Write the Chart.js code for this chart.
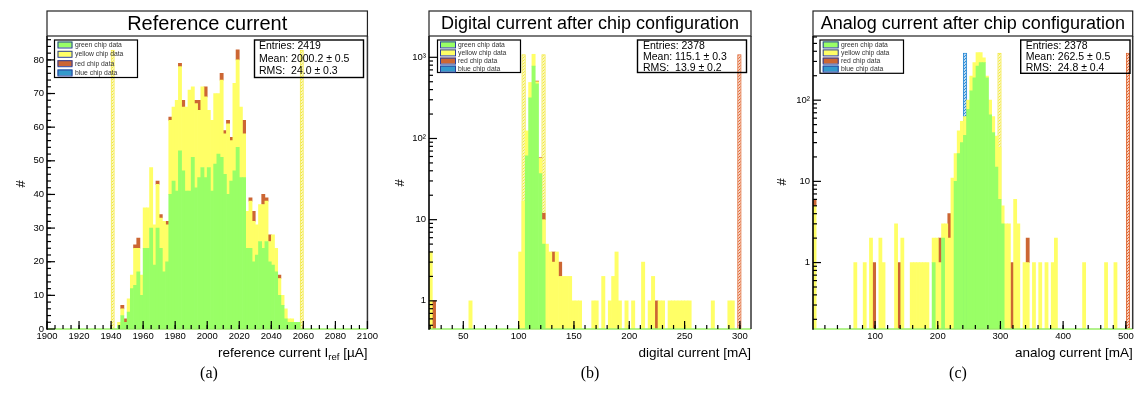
<!DOCTYPE html>
<html><head><meta charset="utf-8">
<script src="https://cdn.jsdelivr.net/npm/chart.js@4.4.1/dist/chart.umd.min.js"></script>
<style>
html,body{margin:0;padding:0;background:#fff;width:1142px;height:412px;overflow:hidden;position:relative;}
canvas{position:absolute;top:0;}
.cap{position:absolute;top:364px;font-family:"Liberation Serif","Times New Roman",serif;font-size:16px;width:40px;text-align:center;color:#000;}
</style></head><body>
<canvas id="ca" width="380" height="365" style="left:0px"></canvas>
<canvas id="cb" width="380" height="365" style="left:380px"></canvas>
<canvas id="cc" width="382" height="365" style="left:760px"></canvas>
<div class="cap" style="left:189px">(a)</div>
<div class="cap" style="left:570px">(b)</div>
<div class="cap" style="left:938px">(c)</div>
<script>
// ---------- series ----------
const seriesNames = ['green chip data', 'yellow chip data', 'red chip data', 'blue chip data'];
const seriesColors = ['#99ff66', '#ffff66', '#cc6633', '#3399cc'];

// ---------- panel (a): reference current, bins of 2 µA (lower edges) ----------
const aBinWidth = 2;
const aBinEdges = [1944,1946,1948,1950,1952,1954,1956,1958,1960,1962,1964,1966,1968,1970,1972,1974,1976,1978,1980,1982,1984,1986,1988,1990,1992,1994,1996,1998,2000,2002,2004,2006,2008,2010,2012,2014,2016,2018,2020,2022,2024,2026,2028,2030,2032,2034,2036,2038,2040,2042,2044,2046,2048,2050,2052,2054,2056];
const aGreen  = [1,4,2,5,12,13,17,10, 24,24,30,19,30,24,17,20, 40,44,41,53,47,41,41,51, 42,45,48,45,48,41,49,52, 51,46,40,44,47,54,45,45, 24,24,20,22,26,24,26,20, 19,17,10,7,3,2,2,2,2];
const aYellow = [1,2,0,4,4,11,7,6, 12,12,18,12,13,9,15,11, 22,22,27,25,19,25,30,21, 25,20,24,24,17,21,21,18, 23,12,21,12,26,26,21,13, 11,14,12,9,11,13,12,6, 9,7,5,3,3,1,1,0,0];
const aRed    = [0,1,1,0,0,1,3,0, 0,0,0,0,1,1,0,1, 1,0,0,1,2,0,0,0, 1,3,0,3,0,0,0,0, 2,1,1,1,0,3,0,4, 0,1,3,0,0,3,1,2, 0,0,1,0,0,0,0,0,0];
const aCutX = [1941, 2059];
const aCutH = [83, 83];
const aCutColor = ['#f2e83a', '#f2e83a'];
const aXTicks = [1900,1920,1940,1960,1980,2000,2020,2040,2060,2080,2100];
const aYTicks = [0,10,20,30,40,50,60,70,80];
const aYLabels = ['0','10','20','30','40','50','60','70','80'];
const aStats = ['Entries: 2419', 'Mean: 2000.2 \u00b1 0.5', 'RMS:  24.0 \u00b1 0.3'];

// ---------- panel (b): digital current, bins of 3 mA (lower edges) ----------
const bBinWidth = 3;
const bBinEdges = [19,22,55,100,103,106,109,112,115,118,121,124,127,130,133,136,139,142,145,148,151,154,166,169,175,181,184,187,190,196,202,211,217,220,223,226,229,235,238,241,244,247,250,253,274,289,292];
const bGreen  = [0,0,0,0,0,61,317,780,470,37,5, 0,0,0,0,0,0,0,0,0,0,0,0,0,0,0,0,0,0,0,0,0,0,0,0,0,0,0,0,0,0,0,0,0,0,0,0];
const bYellow = [4,0,1,4,17,63,173,310,30,20,5, 5,4,3,4,2,2,2,2,1,1,1,1,1,2,1,2,4,1,1,1,3,1,2,0,1,1,1,1,1,1,1,1,1,1,1,1];
const bRed    = [0,1,0,0,0,0,0,0,10,1,2, 0,0,1,0,1,0,0,0,0,0,0,0,0,0,0,0,0,0,0,0,0,0,0,1,0,0,0,0,0,0,0,0,0,0,0,0];
const bCutX = [104.5, 122.5, 299.5];
const bCutH = [1090, 1090, 1090];
const bCutColor = ['#f2e83a', '#f2e83a', '#e0642e'];
const bXTicks = [50,100,150,200,250,300];
const bYTicks = [1,10,100,1000];
const bYLabels = ['1','10','10\u00b2','10\u00b3'];
const bStats = ['Entries: 2378', 'Mean: 115.1 \u00b1 0.3', 'RMS:  13.9 \u00b1 0.2'];

// ---------- panel (c): analog current, bins of 5 mA (lower edges) ----------
const cBinWidth = 5;
const cBinEdges = [1,66,81,91,96,106,111,131,136,141,156,161,166,171,176,181,191,196,201,206,211,216,221,226,231,236,241,246,251,256,261,266,271,276,281,286,291,296,301,306,311,316,321,326,336,341,351,361,371,381,386,431,466,481];
const cGreen  = [0,0,0,0,0,0,0,0,0,0,0,0,0,0,0,0, 1,0,0,2,0,0,0, 10,22,30,37,77,130,189,263,290,290,189,66,40,15,6,3, 0,0,0,0,0,0,0,0,0,0,0,0,0,0,0];
const cYellow = [5,1,1,2,0,2,1,3,0,2, 1,1,1,1,1,1, 1,2,1,1,3,2,11, 12,20,25,26,23,68,101,122,95,43,9,34,23,21,20,2, 3,3,0,6,3,1,1,1,1,1,1,2,1,1,1];
const cRed    = [1,0,0,0,1,0,0,0,1,0, 0,0,0,0,0,0, 0,0,1,0,0,2,0, 0,0,0,0,0,0,0,0,0,0,0,0,0,0,0,0, 0,0,1,0,0,0,1,0,0,0,0,0,0,0,0];
const cCutX = [243.5, 298.5, 503.5];
const cCutH = [385, 385, 385];
const cCutColor = ['#2a8ad6', '#f2e83a', '#e0642e'];
const cXTicks = [100,200,300,400,500];
const cYTicks = [1,10,100];
const cYLabels = ['1','10','10\u00b2'];
const cStats = ['Entries: 2378', 'Mean: 262.5 \u00b1 0.5', 'RMS:  24.8 \u00b1 0.4'];

// ---------- helpers ----------
const FONT = '"Liberation Sans", Arial, Helvetica, sans-serif';

function hatch(ctx, color) {
  const c = document.createElement('canvas'); c.width = 3; c.height = 3;
  const g = c.getContext('2d');
  g.strokeStyle = color; g.lineWidth = 1.2;
  g.beginPath();
  g.moveTo(0, 3); g.lineTo(3, 0);
  g.moveTo(-1, 1); g.lineTo(1, -1);
  g.moveTo(2, 4); g.lineTo(4, 2);
  g.stroke();
  return ctx.createPattern(c, 'repeat');
}
function series(edges, width, vals) {
  return edges.map((e, i) => ({ x: e + width / 2, y: vals[i] ? vals[i] : null }));
}
function range(a, b, s) { const r = []; for (let v = a; v <= b + 1e-9; v += s) r.push(+v.toFixed(6)); return r; }
function logMinor(min, max) {
  const r = [];
  for (let d = 0.01; d <= max; d *= 10) for (let m = 2; m <= 9; m++) { const v = m * d; if (v >= min && v <= max) r.push(v); }
  return r;
}

function rootPlugin(cfg) {
  return {
    id: 'rootStyle',
    afterDatasetsDraw(chart) {
      const ctx = chart.ctx, ca = chart.chartArea, xs = chart.scales.x, ys = chart.scales.y;
      const line = (x1, y1, x2, y2) => { ctx.beginPath(); ctx.moveTo(x1, y1); ctx.lineTo(x2, y2); ctx.stroke(); };
      ctx.save();
      // frame
      ctx.strokeStyle = '#99ee66'; ctx.lineWidth = 1.6;
      line(ca.left, ca.bottom, ca.right, ca.bottom);
      ctx.strokeStyle = '#000'; ctx.lineWidth = 1.6;
      line(ca.left, ca.top, ca.left, ca.bottom + 0.8);
      ctx.strokeStyle = '#333'; ctx.lineWidth = 1.5;
      line(ca.right, ca.top, ca.right, ca.bottom);
      // title box
      ctx.strokeStyle = '#222'; ctx.lineWidth = 1.2;
      ctx.strokeRect(ca.left, cfg.titleTop, ca.right - ca.left, ca.top - cfg.titleTop);
      ctx.fillStyle = '#000'; ctx.textAlign = 'center'; ctx.textBaseline = 'middle';
      ctx.font = cfg.titleSize + 'px ' + FONT;
      ctx.fillText(cfg.title, (ca.left + ca.right) / 2, (cfg.titleTop + ca.top) / 2 + 1);
      // ticks
      ctx.strokeStyle = '#000'; ctx.lineWidth = 1.2;
      cfg.xMajor.forEach(v => { const p = xs.getPixelForValue(v); line(p, ca.bottom, p, ca.bottom - 8); });
      cfg.xMinor.forEach(v => { if (v <= xs.min || v >= xs.max) return; const p = xs.getPixelForValue(v); line(p, ca.bottom, p, ca.bottom - 4); });
      cfg.yMajor.forEach(v => { const p = ys.getPixelForValue(v); line(ca.left, p, ca.left + 8, p); });
      cfg.yMinor.forEach(v => { if (v <= ys.min || v >= ys.max) return; const p = ys.getPixelForValue(v); line(ca.left, p, ca.left + 4, p); });
      // legend
      const L = cfg.legend;
      ctx.strokeStyle = '#000'; ctx.lineWidth = 1.2;
      ctx.strokeRect(L.x0, L.y0, L.x1 - L.x0, L.y1 - L.y0);
      ctx.textAlign = 'left'; ctx.textBaseline = 'middle';
      seriesNames.forEach((name, i) => {
        const y = L.rows[i];
        ctx.fillStyle = seriesColors[i];
        ctx.fillRect(L.sx0, y - 3, L.sx1 - L.sx0, 6);
        ctx.strokeStyle = '#2a3f9a'; ctx.lineWidth = 1;
        ctx.strokeRect(L.sx0 + 0.5, y - 3 + 0.5, L.sx1 - L.sx0 - 1, 6);
        ctx.fillStyle = '#333'; ctx.font = '6.8px ' + FONT;
        ctx.fillText(name, L.tx, y + 0.5);
      });
      // stats box
      const S = cfg.stats;
      ctx.strokeStyle = '#000'; ctx.lineWidth = 1.4;
      ctx.strokeRect(S.x0, S.y0, S.x1 - S.x0, S.y1 - S.y0);
      ctx.fillStyle = '#000'; ctx.font = '10.5px ' + FONT;
      S.lines.forEach((t, i) => ctx.fillText(t, S.tx, S.rows[i]));
      // x title (right aligned, subscript support)
      let total = 0;
      cfg.xTitle.forEach(p => { ctx.font = (p.sub ? 9.5 : 13.5) + 'px ' + FONT; p.w = ctx.measureText(p.t).width; total += p.w; });
      let x = ca.right - total;
      ctx.textBaseline = 'alphabetic';
      cfg.xTitle.forEach(p => { ctx.font = (p.sub ? 9.5 : 13.5) + 'px ' + FONT; ctx.fillText(p.t, x, 356.5 + (p.sub ? 3 : 0)); x += p.w; });
      // y title "#"
      ctx.save();
      ctx.translate(cfg.hash[0], cfg.hash[1]); ctx.rotate(-Math.PI / 2);
      ctx.textAlign = 'center'; ctx.textBaseline = 'middle'; ctx.font = '13px ' + FONT;
      ctx.fillText('#', 0, 0);
      ctx.restore();
      ctx.restore();
    }
  };
}

function makeChart(id, p) {
  const canvas = document.getElementById(id);
  const ctx = canvas.getContext('2d');
  const cutPatterns = p.cutColor.map(c => hatch(ctx, c));
  const datasets = [
    { label: seriesNames[0], data: series(p.edges, p.w, p.green), backgroundColor: seriesColors[0], stack: 'h', order: 0, borderWidth: 0 },
    { label: seriesNames[1], data: series(p.edges, p.w, p.yellow), backgroundColor: seriesColors[1], stack: 'h', order: 1, borderWidth: 0 },
    { label: seriesNames[2], data: series(p.edges, p.w, p.red), backgroundColor: seriesColors[2], stack: 'h', order: 2, borderWidth: 0 },
    { label: seriesNames[3], data: [], backgroundColor: seriesColors[3], stack: 'h', order: 3, borderWidth: 0 },
    { label: 'cut', data: p.cutX.map((x, i) => ({ x: x, y: p.cutH[i] })), backgroundColor: cutPatterns,
      borderColor: p.cutColor, borderWidth: 1, barPercentage: p.cutWidth, inflateAmount: 0,
      stack: 'cut', grouped: false, order: 10 }
  ];
  const yScale = {
    type: p.log ? 'logarithmic' : 'linear', min: p.ymin, max: p.ymax, stacked: true,
    grid: { display: false, drawTicks: false }, border: { display: false },
    afterBuildTicks: s => { s.ticks = p.yTicks.map(v => ({ value: v })); },
    afterFit: s => { s.width = p.yAxisW; },
    ticks: { autoSkip: false, padding: 3, color: '#000', font: { family: FONT, size: 9.5 },
      callback: (v, i) => p.yLabels[i] }
  };
  const xScale = {
    type: 'linear', min: p.xmin, max: p.xmax, stacked: true, offset: false,
    grid: { display: false, drawTicks: false }, border: { display: false },
    afterBuildTicks: s => { s.ticks = p.xTicks.map(v => ({ value: v })); },
    afterFit: s => { s.height = 36; },
    ticks: { autoSkip: false, maxRotation: 0, padding: 2, color: '#000', font: { family: FONT, size: 9.5 },
      callback: (v, i) => String(p.xTicks[i]) }
  };
  return new Chart(ctx, {
    type: 'bar',
    data: { datasets },
    options: {
      responsive: false, animation: false, devicePixelRatio: 1,
      layout: { padding: { top: 36, right: p.padRight, left: 0, bottom: 0 } },
      datasets: { bar: { barPercentage: 1, categoryPercentage: 1 } },
      plugins: { legend: { display: false }, tooltip: { enabled: false }, title: { display: false } },
      scales: { x: xScale, y: yScale }
    },
    plugins: [rootPlugin(p.root)]
  });
}

makeChart('ca', {
  edges: aBinEdges, w: aBinWidth, green: aGreen, yellow: aYellow, red: aRed,
  cutX: aCutX, cutH: aCutH, cutColor: aCutColor, cutWidth: 1.25,
  log: false, ymin: 0, ymax: 87.1, xmin: 1900, xmax: 2100,
  yTicks: aYTicks, yLabels: aYLabels, xTicks: aXTicks, yAxisW: 47, padRight: 12,
  root: {
    title: 'Reference current', titleSize: 20, titleTop: 11,
    xMajor: aXTicks, xMinor: range(1905, 2095, 5), yMajor: aYTicks, yMinor: range(2, 86, 2),
    legend: { x0: 54.5, y0: 40, x1: 137.5, y1: 77.5, rows: [44.5, 53.8, 63.2, 72.5], sx0: 57.5, sx1: 72.5, tx: 75 },
    stats: { x0: 254.5, y0: 40, x1: 363.5, y1: 77.5, rows: [46.3, 58.8, 71.2], tx: 259, lines: aStats },
    xTitle: [{ t: 'reference current I' }, { t: 'ref', sub: true }, { t: ' [\u00b5A]' }],
    hash: [21, 184]
  }
});

makeChart('cb', {
  edges: bBinEdges, w: bBinWidth, green: bGreen, yellow: bYellow, red: bRed,
  cutX: bCutX, cutH: bCutH, cutColor: bCutColor, cutWidth: 1.3,
  log: true, ymin: 0.45, ymax: 1830, xmin: 19, xmax: 310,
  yTicks: bYTicks, yLabels: bYLabels, xTicks: bXTicks, yAxisW: 49, padRight: 9,
  root: {
    title: 'Digital current after chip configuration', titleSize: 18, titleTop: 11,
    xMajor: bXTicks, xMinor: range(20, 310, 10), yMajor: bYTicks, yMinor: logMinor(0.45, 1830),
    legend: { x0: 57.5, y0: 40, x1: 140.5, y1: 72.5, rows: [44.4, 52.4, 60.6, 68.6], sx0: 60, sx1: 76, tx: 78 },
    stats: { x0: 257.5, y0: 40, x1: 366.5, y1: 72.5, rows: [45.8, 56.8, 68], tx: 263, lines: bStats },
    xTitle: [{ t: 'digital current [mA]' }],
    hash: [20, 183]
  }
});

makeChart('cc', {
  edges: cBinEdges, w: cBinWidth, green: cGreen, yellow: cYellow, red: cRed,
  cutX: cCutX, cutH: cCutH, cutColor: cCutColor, cutWidth: 1.35,
  log: true, ymin: 0.152, ymax: 617, xmin: 1, xmax: 511,
  yTicks: cYTicks, yLabels: cYLabels, xTicks: cXTicks, yAxisW: 53, padRight: 9.3,
  root: {
    title: 'Analog current after chip configuration', titleSize: 18, titleTop: 11,
    xMajor: cXTicks, xMinor: range(20, 500, 20), yMajor: cYTicks, yMinor: logMinor(0.152, 617),
    legend: { x0: 60, y0: 40, x1: 143.5, y1: 73.3, rows: [44.4, 52.4, 60.6, 68.6], sx0: 62.7, sx1: 78.7, tx: 81 },
    stats: { x0: 260.7, y0: 40, x1: 370, y1: 73.3, rows: [45.8, 56.8, 68], tx: 265.7, lines: cStats },
    xTitle: [{ t: 'analog current [mA]' }],
    hash: [22, 182]
  }
});
</script>
</body></html>
